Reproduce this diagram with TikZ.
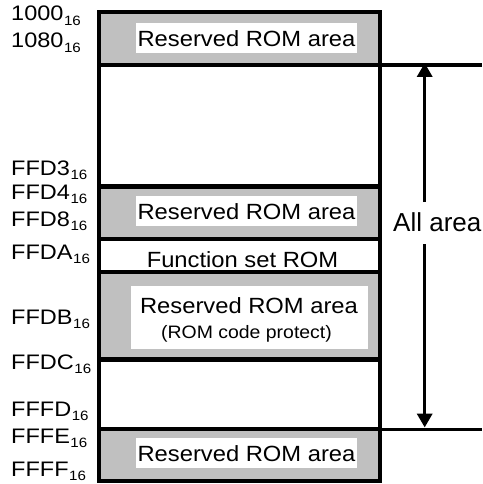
\documentclass[tikz,border=0pt]{standalone}
\usepackage{fontspec}
\setmainfont{Liberation Sans}
\newfontfamily\boxfont{Liberation Sans}[FakeStretch=1.08]
\newfontfamily\labfont{Liberation Sans}[FakeStretch=1.12]
\usetikzlibrary{arrows.meta}
\definecolor{romgray}{RGB}{192,192,192}
\newcommand{\addrlab}[1]{{\fontsize{21}{21}\selectfont #1}\kern0.5pt\raisebox{-4.5pt}{\fontsize{13.5}{13.5}\selectfont 16}}
\begin{document}
\begin{tikzpicture}[x=1pt,y=-1pt,
  frame/.style={line width=4.5pt},
  grayarea/.style={fill=romgray},
  textbox/.style={fill=white, inner xsep=1pt, inner ysep=0pt, minimum width=221pt,
    text height=23.5pt, text depth=6.5pt, font=\boxfont\fontsize{22}{26}\selectfont},
  plaintext/.style={anchor=base, inner sep=0pt, font=\boxfont\fontsize{22}{26}\selectfont},
  addrlabel/.style={anchor=base west, inner sep=0pt, font=\labfont},
  guide/.style={line width=3.5pt},
  span/.style={line width=3.5pt, -{Triangle[width=15pt,length=14pt]}}]
\useasboundingbox (0,0) rectangle (482,484);
% gray areas
\fill[grayarea] (99,12) rectangle (380,65);
\fill[grayarea] (99,186.5) rectangle (380,239);
\fill[grayarea] (99,272) rectangle (380,359.5);
\fill[grayarea] (99,429) rectangle (380,481);
% texts in the areas
\node[textbox] (r1) at (246.5,38.2) {Reserved ROM area};
\node[textbox] (r2) at (246.5,211) {Reserved ROM area};
\node[plaintext] (fs) at (242.5,267) {Function set ROM};
\node[fill=white, inner sep=0pt, minimum width=237pt, minimum height=63pt] (rcp) at (249.5,317.5) {};
\node[plaintext] (r3) at (249,313) {Reserved ROM area};
\node[plaintext, font=\boxfont\fontsize{18}{22}\selectfont] (r3b) at (246.5,338) {(ROM code protect)};
\node[textbox] (r4) at (246.5,453.2) {Reserved ROM area};
% frame and dividers
\draw[frame] (99,12) rectangle (380,481);
\foreach \yy in {65,186.5,239,272,359.5,429}
  \draw[frame] (99,\yy) -- (380,\yy);
% address labels
\node[addrlabel] (a1) at (11,21) {\addrlab{1000}};
\node[addrlabel] (a2) at (11,48) {\addrlab{1080}};
\node[addrlabel] (a3) at (11,175) {\addrlab{FFD3}};
\node[addrlabel] (a4) at (11,199) {\addrlab{FFD4}};
\node[addrlabel] (a5) at (11,226) {\addrlab{FFD8}};
\node[addrlabel] (a6) at (11,259) {\addrlab{FFDA}};
\node[addrlabel] (a7) at (11,324) {\addrlab{FFDB}};
\node[addrlabel] (a8) at (11,369) {\addrlab{FFDC}};
\node[addrlabel] (a9) at (11,416) {\addrlab{FFFD}};
\node[addrlabel] (a10) at (11,443) {\addrlab{FFFE}};
\node[addrlabel] (a11) at (11,476) {\addrlab{FFFF}};
% all area span
\coordinate (gt1) at (380,65);
\coordinate (gt2) at (482,65);
\coordinate (gb1) at (380,429.5);
\coordinate (gb2) at (482,429.5);
\draw[guide] (gt1) -- (gt2);
\draw[guide] (gb1) -- (gb2);
\node[anchor=base west, inner sep=0pt, font=\fontsize{26}{30}\selectfont] (all) at (393,231.7) {All area};
\coordinate (st) at (424.7,202);
\coordinate (tt) at (424.7,63);
\coordinate (sb) at (424.7,244);
\coordinate (tb) at (424.7,427.5);
\draw[span] (st) -- (tt);
\draw[span] (sb) -- (tb);
\end{tikzpicture}
\end{document}
